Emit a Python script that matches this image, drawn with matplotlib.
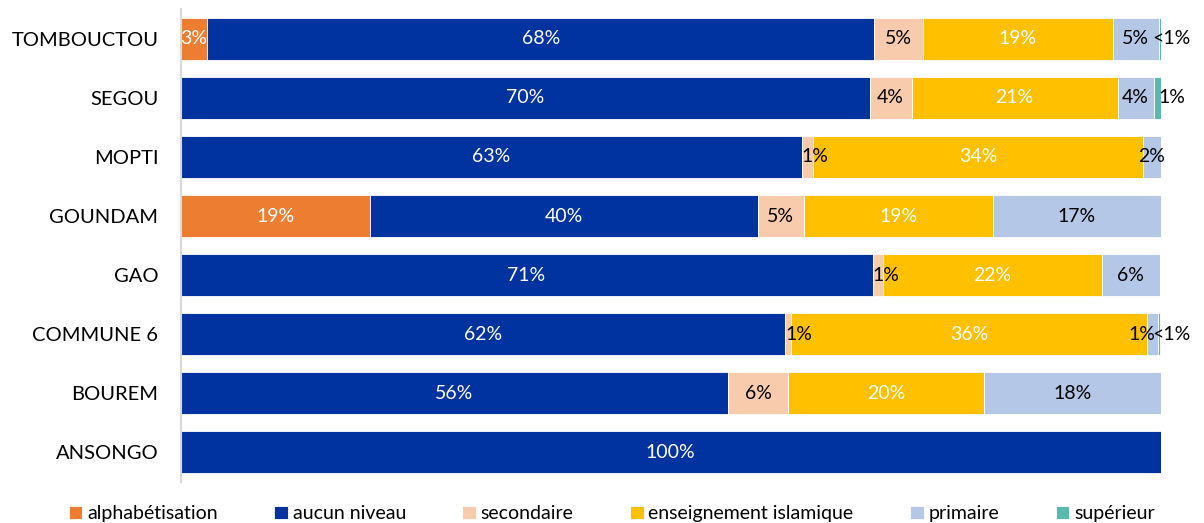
import matplotlib.pyplot as plt
import numpy as np

plt.rcParams['font.family'] = ['Lato', 'DejaVu Sans']

# Données (en %), de haut en bas
regions = ['TOMBOUCTOU', 'SEGOU', 'MOPTI', 'GOUNDAM', 'GAO', 'COMMUNE 6', 'BOUREM', 'ANSONGO']
alphabetisation = [2.7, 0.0, 0.0, 19.3, 0.0, 0.0, 0.0, 0.0]
aucun_niveau = [68.1, 70.3, 63.4, 39.6, 70.6, 61.7, 55.9, 100.0]
secondaire = [4.9, 4.3, 1.1, 4.7, 1.1, 0.6, 6.1, 0.0]
islamique = [19.4, 21.0, 33.7, 19.3, 22.3, 36.3, 20.0, 0.0]
primaire = [4.7, 3.7, 1.8, 17.1, 5.9, 1.1, 18.0, 0.0]
superieur = [0.3, 0.7, 0.0, 0.0, 0.0, 0.2, 0.0, 0.0]

# Étiquettes affichées
lab_alpha = ['3%', '', '', '19%', '', '', '', '']
lab_aucun = ['68%', '70%', '63%', '40%', '71%', '62%', '56%', '100%']
lab_sec = ['5%', '4%', '1%', '5%', '1%', '1%', '6%', '']
lab_isl = ['19%', '21%', '34%', '19%', '22%', '36%', '20%', '']
lab_prim = ['5%', '4%', '2%', '17%', '6%', '1%', '18%', '']
lab_sup = ['<1%', '1%', '', '', '', '<1%', '', '']

series = [
    ('alphabétisation', alphabetisation, lab_alpha, '#ED7D31', 'white'),
    ('aucun niveau', aucun_niveau, lab_aucun, '#0033A0', 'white'),
    ('secondaire', secondaire, lab_sec, '#F8CBAD', 'black'),
    ('enseignement islamique', islamique, lab_isl, '#FFC000', 'white'),
    ('primaire', primaire, lab_prim, '#B4C7E7', 'black'),
    ('supérieur', superieur, lab_sup, '#5BB8AD', 'black'),
]

fig = plt.figure(figsize=(12.04, 5.23), dpi=100)
ax = fig.add_axes([0.150, 0.079, 0.814, 0.903])

fs = 14
y = np.arange(len(regions))
left = np.zeros(len(regions))
for name, vals, labs, color, tcol in series:
    vals = np.array(vals)
    ax.barh(y, vals, left=left, height=0.71, color=color, edgecolor='white',
            linewidth=0.6, label=name)
    for i, (v, t) in enumerate(zip(vals, labs)):
        if not t:
            continue
        if name == 'supérieur':
            # étiquettes posées à droite de la barre
            ax.text(101.1, y[i], t, ha='center', va='center', fontsize=fs, color='black')
        elif v < 1.5 and name == 'secondaire':
            ax.text(left[i], y[i], t, ha='left', va='center', fontsize=fs, color=tcol)
        elif v < 1.5 and superieur[i] > 0:
            ax.text(left[i] + v - 0.2, y[i], t, ha='right', va='center', fontsize=fs, color=tcol)
        else:
            ax.text(left[i] + v / 2, y[i], t, ha='center', va='center',
                    fontsize=fs, color=tcol)
    left += vals

ax.set_xlim(0, 100)
ax.set_ylim(len(regions) - 0.5, -0.5)
ax.set_yticks(y)
ax.set_yticklabels(regions, fontsize=14.5)
ax.tick_params(axis='y', length=0, pad=16)
ax.set_xticks([])
for s in ['top', 'right', 'bottom']:
    ax.spines[s].set_visible(False)
ax.spines['left'].set_color('#D9D9D9')
ax.spines['left'].set_linewidth(1.5)

fig.legend(loc='lower center', bbox_to_anchor=(0.508, -0.032), ncol=6, frameon=False,
           fontsize=fs, handlelength=0.7, handleheight=0.7, handletextpad=0.25,
           columnspacing=2.9)

fig.savefig('out.png', dpi=100)
